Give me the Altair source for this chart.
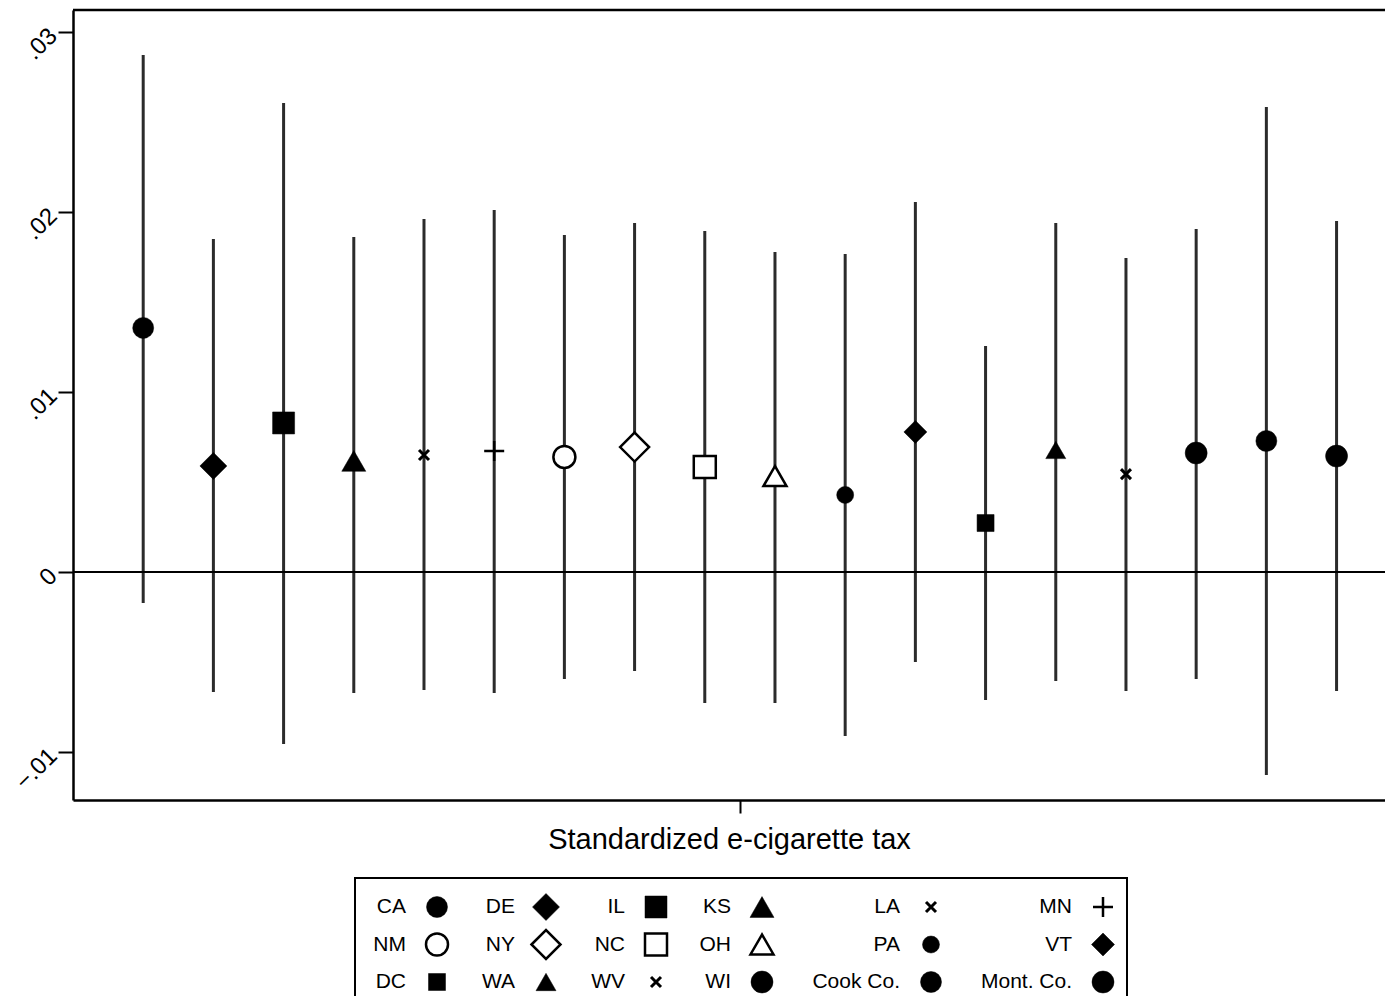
import altair as alt
import pandas as pd

# ---------------- data ----------------
states = ["CA", "DE", "IL", "KS", "LA", "MN", "NM", "NY", "NC", "OH",
          "PA", "VT", "DC", "WA", "WV", "WI", "Cook Co.", "Mont. Co."]
positions = list(range(1, 19))
estimates = [0.01356, 0.00589, 0.00828, 0.00617, 0.00650, 0.00672, 0.00639, 0.00694, 0.00583, 0.00533,
             0.00428, 0.00778, 0.00272, 0.00678, 0.00544, 0.00661, 0.00728, 0.00644]
ci_low = [-0.00172, -0.00667, -0.00956, -0.00672, -0.00656, -0.00672, -0.00594, -0.00550, -0.00728, -0.00728,
          -0.00911, -0.00500, -0.00711, -0.00606, -0.00661, -0.00594, -0.01128, -0.00661]
ci_high = [0.02872, 0.01850, 0.02606, 0.01861, 0.01961, 0.02011, 0.01872, 0.01939, 0.01894, 0.01778,
           0.01767, 0.02056, 0.01256, 0.01939, 0.01744, 0.01906, 0.02583, 0.01950]
y_ticks = [-0.01, 0, 0.01, 0.02, 0.03]
x_title = "Standardized e-cigarette tax"

# ---------------- styles ----------------
PLUS = "M-1,0H1M0,-1V1"
XMARK = "M-1,-1L1,1M-1,1L1,-1"
shapes = ["circle", "diamond", "square", "triangle-up", XMARK, PLUS,
          "circle", "diamond", "square", "triangle-up", "circle", "diamond",
          "square", "triangle-up", XMARK, "circle", "circle", "circle"]
fills = ["black", "black", "black", "black", "black", "black",
         "white", "white", "white", "white", "black", "black",
         "black", "black", "black", "black", "black", "black"]
sizes = [441, 729, 484, 576, 100, 400, 484, 841, 484, 529, 289, 529, 289, 400, 100, 484, 441, 484]
stroke_widths = [0.5, 0.5, 0.5, 0.5, 3, 2.5, 2.5, 2.5, 2.5, 2.5, 0.5, 0.5, 0.5, 0.5, 3, 0.5, 0.5, 0.5]
FONT = "Liberation Sans"

df = pd.DataFrame({"state": states, "pos": positions, "est": estimates,
                   "lo": ci_low, "hi": ci_high})
df["row"] = [i // 6 for i in range(len(states))]
df["col"] = [i % 6 for i in range(len(states))]

shape_enc = alt.Shape("state:N", scale=alt.Scale(domain=states, range=shapes), legend=None)
fill_enc = alt.Fill("state:N", scale=alt.Scale(domain=states, range=fills), legend=None)
size_enc = alt.Size("state:N", scale=alt.Scale(type="ordinal", domain=states, range=sizes), legend=None)
sw_enc = alt.StrokeWidth("state:N", scale=alt.Scale(type="ordinal", domain=states, range=stroke_widths),
                         legend=None)

x_scale = alt.Scale(domain=[0, 18.69], nice=False, zero=False)
y_scale = alt.Scale(domain=[-0.012667, 0.031222], nice=False, zero=False)

x_axis = alt.Axis(values=[9.5], labels=False, grid=False, tickSize=13, tickWidth=2,
                  tickColor="black", domainColor="black", domainWidth=2.5,
                  title=x_title, titleFont=FONT, titleFontSize=29, titleFontWeight="normal",
                  titleColor="black", titlePadding=11)
y_axis = alt.Axis(values=y_ticks, grid=False, tickSize=15, tickWidth=2, tickColor="black",
                  domainColor="black", domainWidth=2.5, labelAngle=-45, labelAlign="right",
                  labelBaseline="middle", labelFont=FONT, labelFontSize=24, labelColor="black",
                  labelPadding=5, title=None,
                  labelExpr="datum.value == 0 ? '0' : replace(format(datum.value, '.2f'), '0.', '.')")

base = alt.Chart(df)

ci = base.mark_rule(color="#2b2b2b", strokeWidth=3).encode(
    x=alt.X("pos:Q", scale=x_scale, axis=x_axis),
    y=alt.Y("lo:Q", scale=y_scale, axis=y_axis),
    y2="hi:Q",
)

pts = base.mark_point(filled=True, opacity=1, fillOpacity=1, stroke="black").encode(
    x="pos:Q", y="est:Q", shape=shape_enc, fill=fill_enc, size=size_enc, strokeWidth=sw_enc,
)

zero = alt.Chart(alt.Data(values=[{}])).mark_rule(color="black", strokeWidth=2).encode(
    y=alt.datum(0)
)
top = alt.Chart(alt.Data(values=[{}])).mark_rule(color="black", strokeWidth=2.5).encode(
    y=alt.value(0)
)

main = alt.layer(ci, zero, top, pts)

# ---------------- legend ----------------
leg_x = alt.Scale(domain=[0, 1, 2, 3, 4, 5], range=[364, 473, 583, 689, 858, 1030])
leg_y = alt.Scale(domain=[0, 2], range=[897, 972])

box = alt.Chart(alt.Data(values=[{}])).mark_rect(fill="white", stroke="black", strokeWidth=2).encode(
    x=alt.value(282), x2=alt.value(1054), y=alt.value(868), y2=alt.value(1010)
)
leg_pts = base.mark_point(filled=True, opacity=1, fillOpacity=1, stroke="black").encode(
    x=alt.X("col:Q", scale=leg_x, axis=None),
    y=alt.Y("row:Q", scale=leg_y, axis=None),
    shape=shape_enc, fill=fill_enc, size=size_enc, strokeWidth=sw_enc,
)
leg_txt = base.mark_text(align="right", baseline="middle", dx=-31, font=FONT,
                         fontSize=21, color="black").encode(
    x=alt.X("col:Q", scale=leg_x, axis=None),
    y=alt.Y("row:Q", scale=leg_y, axis=None),
    text="state:N",
)
legend = alt.layer(box, leg_pts, leg_txt)

chart = alt.layer(main, legend).resolve_scale(x="independent", y="independent").properties(
    width=1312, height=790,
    autosize=alt.AutoSizeParams(type="none"),
    padding={"left": 65, "top": 2, "right": 0, "bottom": 196},
).configure_view(stroke=None).configure(background="white")

chart.save("out.html", embed_options={"renderer": "svg", "actions": False})
